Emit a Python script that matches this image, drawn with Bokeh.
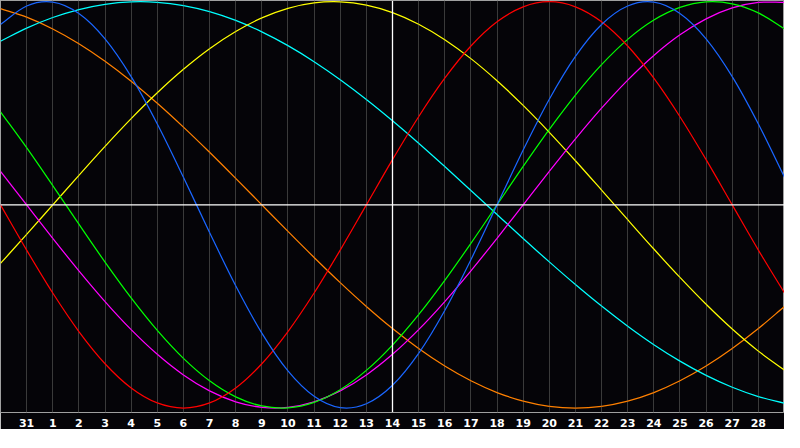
from bokeh.plotting import figure
from bokeh.models import Range1d, FixedTicker, Span, ColumnDataSource
from bokeh.embed import file_html
from bokeh.resources import INLINE

# Days shown on the chart (previous month's 30, 31, then 1..29)
days = [30, 31] + list(range(1, 30))
today = 14

# Cycle values per day (-1 .. 1)
physical = [0.888, 0.979, 0.998, 0.942, 0.817, 0.631, 0.398, 0.136, -0.136, -0.398,
            -0.631, -0.817, -0.942, -0.998, -0.979, -0.888, -0.731, -0.520, -0.270, 0.0,
            0.270, 0.520, 0.731, 0.888, 0.979, 0.998, 0.942, 0.817, 0.631, 0.398, 0.136]
emotional = [0.0, -0.2225, -0.4339, -0.6235, -0.7818, -0.9010, -0.9749, -1.0, -0.9749, -0.9010,
             -0.7818, -0.6235, -0.4339, -0.2225, 0.0, 0.2225, 0.4339, 0.6235, 0.7818, 0.9010,
             0.9749, 1.0, 0.9749, 0.9010, 0.7818, 0.6235, 0.4339, 0.2225, 0.0, -0.2225, -0.4339]
intellectual = [0.4582, 0.2817, 0.0951, -0.0951, -0.2817, -0.4582, -0.6182, -0.7557, -0.8660, -0.9450,
                -0.9898, -0.9989, -0.9718, -0.9096, -0.8146, -0.6901, -0.5406, -0.3717, -0.1893, 0.0,
                0.1893, 0.3717, 0.5406, 0.6901, 0.8146, 0.9096, 0.9718, 0.9989, 0.9898, 0.9450, 0.8660]
intuitive = [0.1646, 0.0, -0.1646, -0.3247, -0.4759, -0.6142, -0.7357, -0.8372, -0.9158, -0.9694,
             -0.9966, -0.9966, -0.9694, -0.9158, -0.8372, -0.7357, -0.6142, -0.4759, -0.3247, -0.1646,
             0.0, 0.1646, 0.3247, 0.4759, 0.6142, 0.7357, 0.8372, 0.9158, 0.9694, 0.9966, 0.9966]
aesthetic = [-0.2881, -0.1456, 0.0, 0.1456, 0.2881, 0.4245, 0.5518, 0.6673, 0.7687, 0.8535,
             0.9204, 0.9675, 0.9940, 0.9993, 0.9834, 0.9465, 0.8894, 0.8133, 0.7199, 0.6112,
             0.4895, 0.3572, 0.2174, 0.0730, -0.0730, -0.2174, -0.3572, -0.4895, -0.6112, -0.7199, -0.8133]
awareness = [0.9659, 0.9239, 0.8660, 0.7934, 0.7071, 0.6088, 0.5, 0.3827, 0.2588, 0.1305,
             0.0, -0.1305, -0.2588, -0.3827, -0.5, -0.6088, -0.7071, -0.7934, -0.8660, -0.9239,
             -0.9659, -0.9914, -1.0, -0.9914, -0.9659, -0.9239, -0.8660, -0.7934, -0.7071, -0.6088, -0.5]
spiritual = [0.8056, 0.8699, 0.9222, 0.9615, 0.9872, 0.9991, 0.9970, 0.9809, 0.9511, 0.9078,
             0.8518, 0.7839, 0.7050, 0.6162, 0.5187, 0.4139, 0.3034, 0.1885, 0.0710, -0.0474,
             -0.1652, -0.2807, -0.3922, -0.4983, -0.5973, -0.6881, -0.7690, -0.8393, -0.8977, -0.9434, -0.9761]

series = [
    (awareness, "#ff8000"),
    (spiritual, "#00ffff"),
    (aesthetic, "#ffff00"),
    (intuitive, "#ff00ff"),
    (intellectual, "#00ff00"),
    (emotional, "#ff0000"),
    (physical, "#1a66ff"),
]


def smooth_source(xs, ys):
    """Catmull-Rom style Bezier segments passing through every daily value."""
    n = len(xs)
    d = dict(x0=[], y0=[], x1=[], y1=[], cx0=[], cy0=[], cx1=[], cy1=[])
    for i in range(n - 1):
        ym = ys[i - 1] if i > 0 else 2 * ys[i] - ys[i + 1]
        yp = ys[i + 2] if i + 2 < n else 2 * ys[i + 1] - ys[i]
        t0 = (ys[i + 1] - ym) / 2.0
        t1 = (yp - ys[i]) / 2.0
        dx = xs[i + 1] - xs[i]
        d["x0"].append(xs[i]); d["y0"].append(ys[i])
        d["x1"].append(xs[i + 1]); d["y1"].append(ys[i + 1])
        d["cx0"].append(xs[i] + dx / 3.0); d["cy0"].append(ys[i] + t0 / 3.0)
        d["cx1"].append(xs[i + 1] - dx / 3.0); d["cy1"].append(ys[i + 1] - t1 / 3.0)
    return ColumnDataSource(d)


x = list(range(len(days)))

p = figure(frame_width=784, frame_height=412, output_backend="svg", toolbar_location=None,
           x_range=Range1d(0, len(days) - 1), y_range=Range1d(-1.022, 1.006))
p.min_border_left = 0
p.min_border_right = 0
p.min_border_top = 0
p.min_border_bottom = 0
p.background_fill_color = "#050408"
p.border_fill_color = "#050408"
p.outline_line_color = "#a0a0a0"
p.outline_line_width = 1

p.yaxis.visible = False
p.ygrid.visible = False

ticks = list(range(1, len(days) - 1))
p.xaxis.ticker = FixedTicker(ticks=ticks)
p.xgrid.ticker = FixedTicker(ticks=ticks)
p.xaxis.major_label_overrides = {i: str(days[i]) for i in ticks}
p.xaxis.axis_line_color = None
p.xaxis.major_tick_line_color = None
p.xaxis.minor_tick_line_color = None
p.xaxis.major_tick_out = 0
p.xaxis.major_tick_in = 0
p.xaxis.major_label_standoff = 6
p.xaxis.major_label_text_color = "white"
p.xaxis.major_label_text_font = "DejaVu Sans"
p.xaxis.major_label_text_font_style = "bold"
p.xaxis.major_label_text_font_size = "11px"
p.xgrid.grid_line_color = "#3a3a3a"
p.xgrid.grid_line_width = 1

p.add_layout(Span(location=0, dimension="width", line_color="white", line_width=1.3))
p.add_layout(Span(location=days.index(today), dimension="height", line_color="white", line_width=1.3))

for vals, col in series:
    p.bezier(x0="x0", y0="y0", x1="x1", y1="y1", cx0="cx0", cy0="cy0", cx1="cx1", cy1="cy1",
             source=smooth_source(x, vals), line_color=col, line_width=1.25)

open("out.html", "w").write(file_html(p, INLINE))
